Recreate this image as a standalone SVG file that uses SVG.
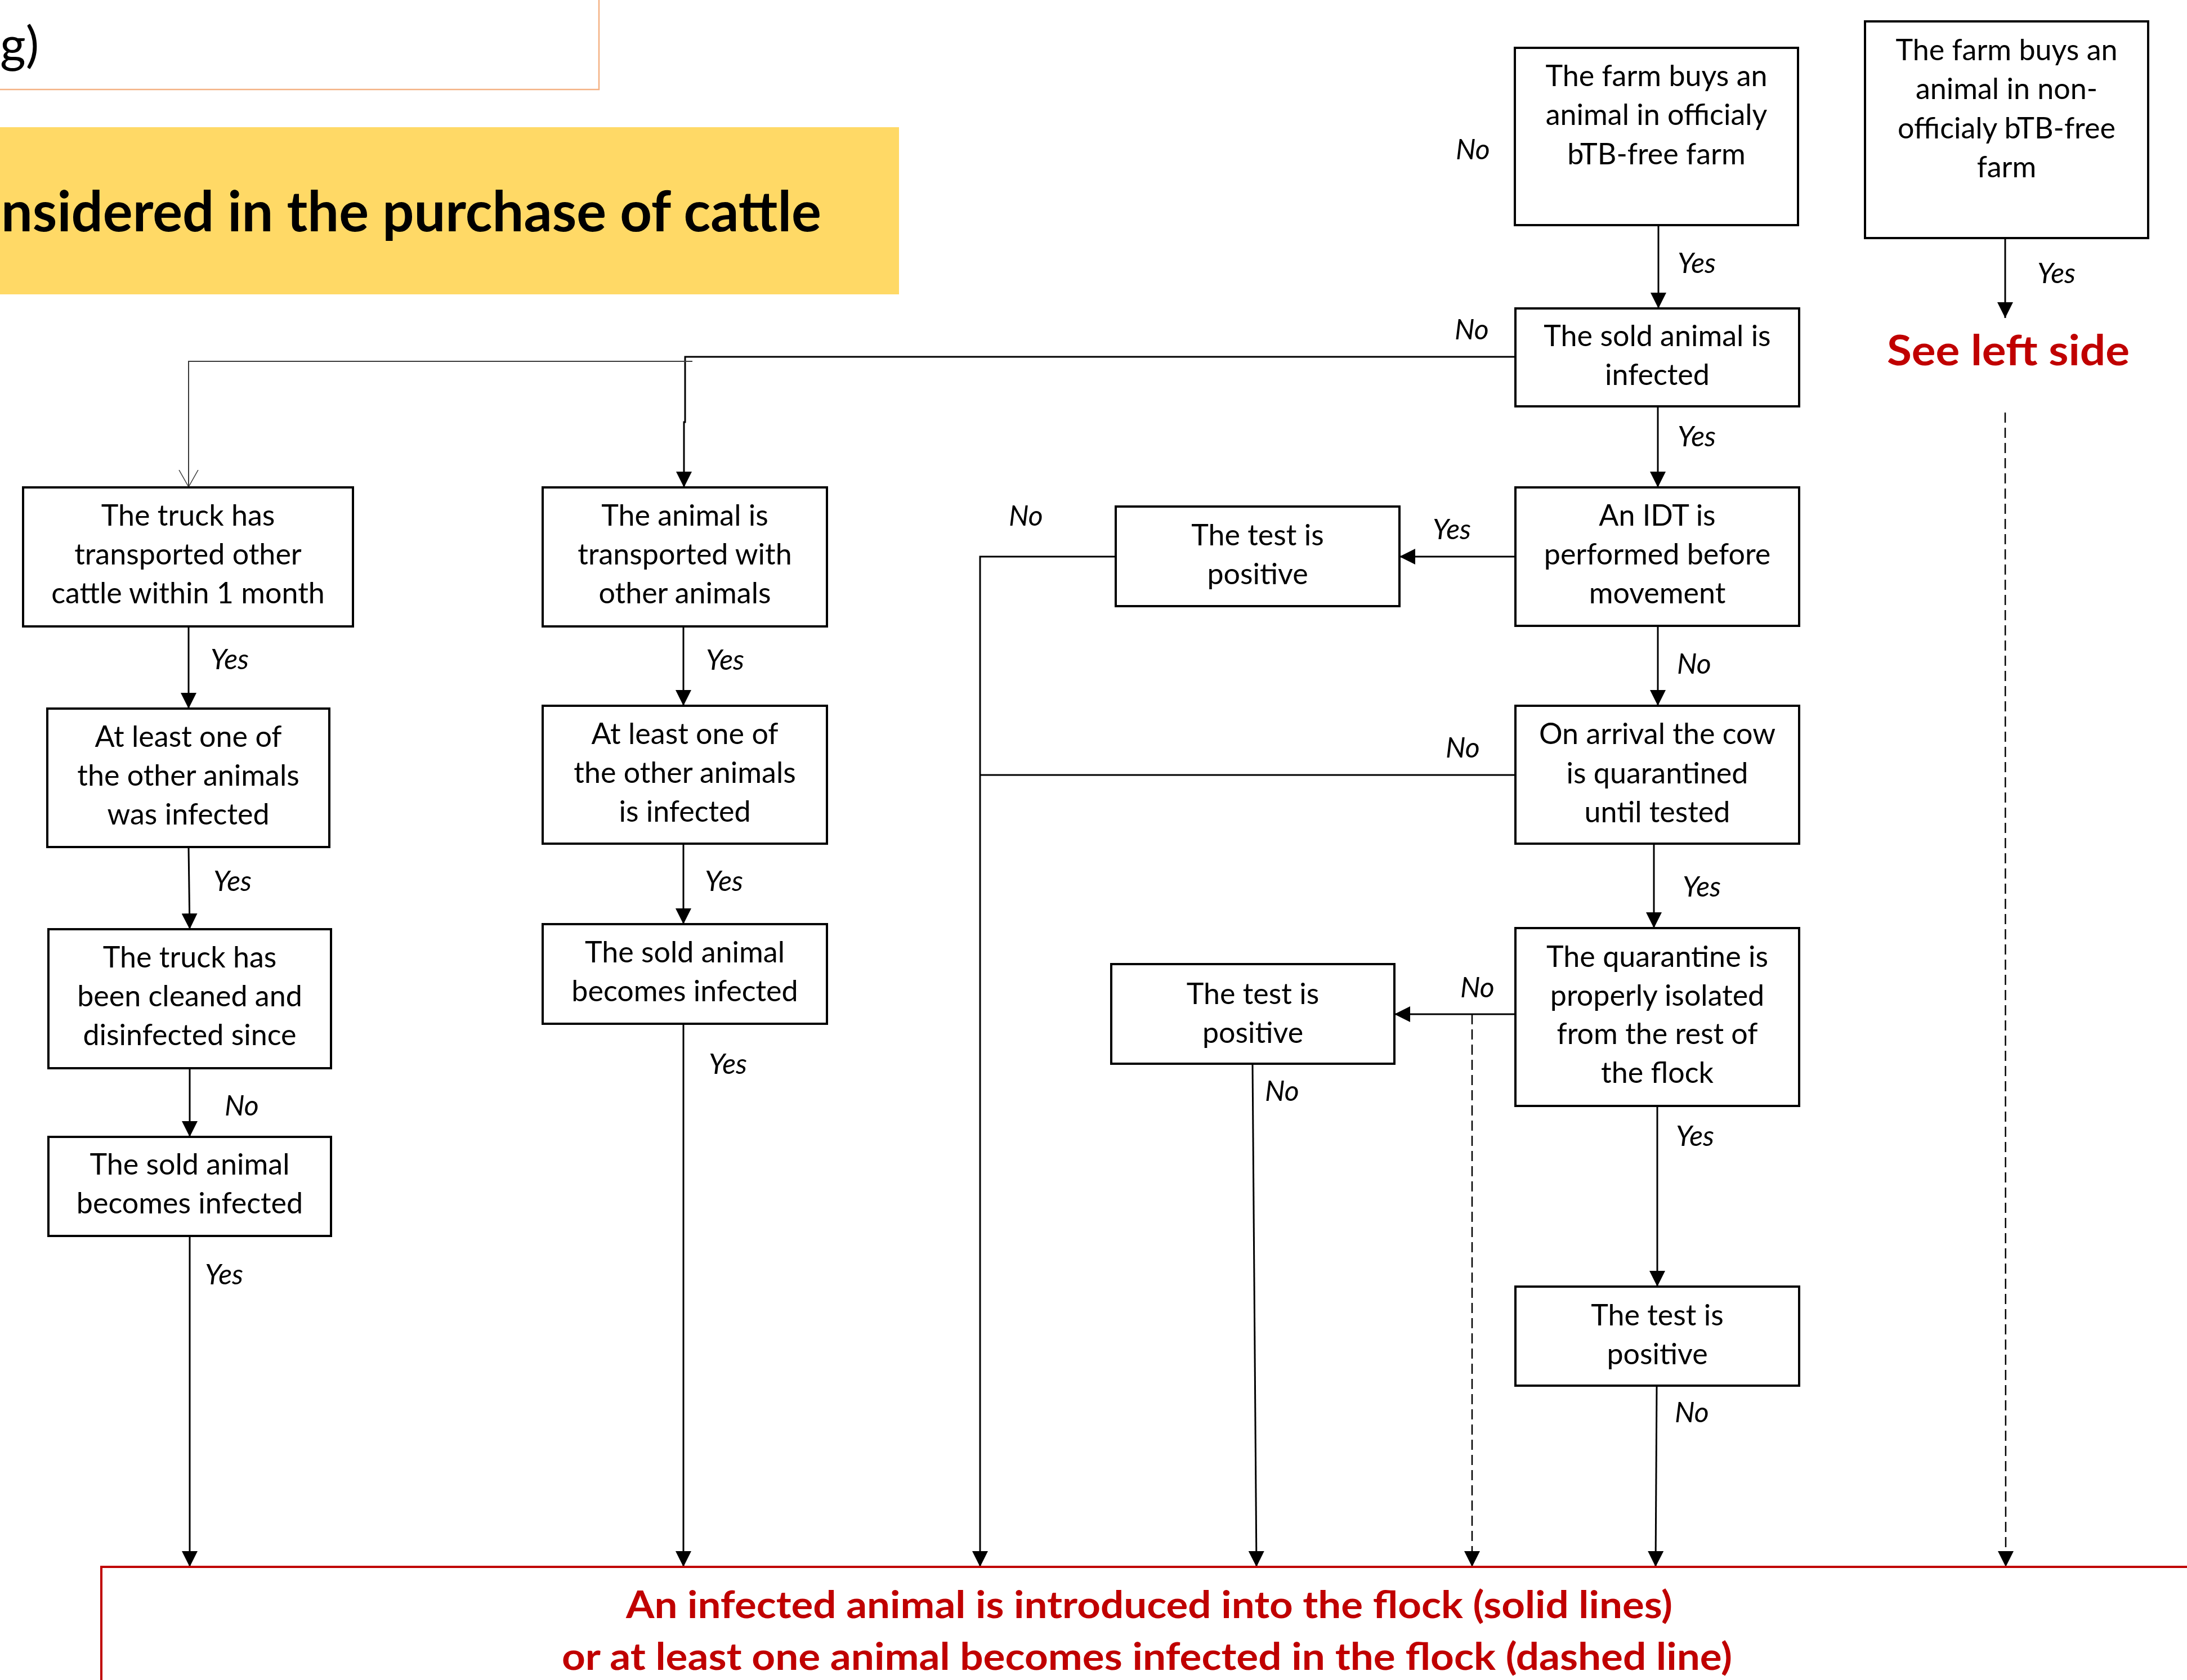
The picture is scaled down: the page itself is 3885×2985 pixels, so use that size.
<svg xmlns="http://www.w3.org/2000/svg" width="3885" height="2985" viewBox="0 0 3885 2985">
<defs>
<style>
.box{fill:#fff;stroke:#000;stroke-width:4}
.t{font-family:Lato,"Liberation Sans",sans-serif;font-size:52px;text-anchor:middle;fill:#000}
.lbl{font-family:Lato,"Liberation Sans",sans-serif;font-size:50px;font-style:italic;fill:#000}
.c{fill:none;stroke:#000;stroke-width:3}
.thin{fill:none;stroke:#3a3a3a;stroke-width:2}
.dash{fill:none;stroke:#000;stroke-width:2.5;stroke-dasharray:18 9}
.red{font-family:Lato,"Liberation Sans",sans-serif;font-weight:bold;fill:#C00000}
</style>
<marker id="ah" markerUnits="userSpaceOnUse" markerWidth="28" markerHeight="28" refX="28" refY="14" orient="auto" viewBox="0 0 28 28">
<path d="M0,0 L28,14 L0,28 z" fill="#000"/>
</marker>
<marker id="oh" markerUnits="userSpaceOnUse" markerWidth="32" markerHeight="36" refX="30" refY="18" orient="auto" viewBox="0 0 32 36">
<path d="M0,1 L30,18 L0,35" fill="none" stroke="#3a3a3a" stroke-width="1.5"/>
</marker>
</defs>
<rect width="3885" height="2985" fill="#fff"/>

<g id="header">
<rect x="-10" y="-10" width="1074" height="169" fill="#fff" stroke="#F4B183" stroke-width="2.5"/>
<text x="0" y="110" style="font-family:Lato,'Liberation Sans',sans-serif;font-size:88px">g)</text>
<rect x="-10" y="226" width="1607" height="297" fill="#FFD966"/>
<text x="2" y="411" textLength="1457" lengthAdjust="spacingAndGlyphs" style="font-family:Lato,'Liberation Sans',sans-serif;font-weight:bold;font-size:100px;fill:#000">nsidered in the purchase of cattle</text>
</g>

<g id="connectors">
<path class="c" d="M2946,400 V548" marker-end="url(#ah)"/>
<path class="c" d="M3562,423 V565" marker-end="url(#ah)"/>
<path class="c" d="M2945,722 V866" marker-end="url(#ah)"/>
<path class="c" d="M2692,634 H1217 V750 H1215 V866" marker-end="url(#ah)"/>
<path class="thin" d="M1230,642 H335 V865" marker-end="url(#oh)"/>
<path class="c" d="M335,1113 V1259" marker-end="url(#ah)"/>
<path class="c" d="M335,1505 L337,1651" marker-end="url(#ah)"/>
<path class="c" d="M337,1898 V2020" marker-end="url(#ah)"/>
<path class="c" d="M337,2196 V2784" marker-end="url(#ah)"/>
<path class="c" d="M1214,1113 V1254" marker-end="url(#ah)"/>
<path class="c" d="M1214,1499 V1642" marker-end="url(#ah)"/>
<path class="c" d="M1214,1819 V2784" marker-end="url(#ah)"/>
<path class="c" d="M2692,989 H2486" marker-end="url(#ah)"/>
<path class="c" d="M1982,989 H1741 V2784" marker-end="url(#ah)"/>
<path class="c" d="M2692,1377 H1741"/>
<path class="c" d="M2945,1112 V1254" marker-end="url(#ah)"/>
<path class="c" d="M2938,1499 V1649" marker-end="url(#ah)"/>
<path class="c" d="M2690,1802 H2477" marker-end="url(#ah)"/>
<path class="dash" d="M2615,1802 V2784" marker-end="url(#ah)"/>
<path class="c" d="M2225,1890 L2232,2784" marker-end="url(#ah)"/>
<path class="c" d="M2944,1965 V2286" marker-end="url(#ah)"/>
<path class="c" d="M2943,2462 L2941,2784" marker-end="url(#ah)"/>
<path class="dash" d="M3562,733 L3563,2784" marker-end="url(#ah)"/>
</g>

<g id="labels">
<text class="lbl" x="2586" y="283">No</text>
<text class="lbl" x="2980" y="485">Yes</text>
<text class="lbl" x="2584" y="603">No</text>
<text class="lbl" x="3619" y="503">Yes</text>
<text class="lbl" x="2980" y="793">Yes</text>
<text class="lbl" x="2545" y="958">Yes</text>
<text class="lbl" x="1792" y="934">No</text>
<text class="lbl" x="2979" y="1197">No</text>
<text class="lbl" x="2568" y="1346">No</text>
<text class="lbl" x="2989" y="1593">Yes</text>
<text class="lbl" x="2594" y="1772">No</text>
<text class="lbl" x="2247" y="1956">No</text>
<text class="lbl" x="2977" y="2036">Yes</text>
<text class="lbl" x="2975" y="2527">No</text>
<text class="lbl" x="374" y="1189">Yes</text>
<text class="lbl" x="1254" y="1190">Yes</text>
<text class="lbl" x="379" y="1583">Yes</text>
<text class="lbl" x="1252" y="1583">Yes</text>
<text class="lbl" x="399" y="1982">No</text>
<text class="lbl" x="1259" y="1908">Yes</text>
<text class="lbl" x="364" y="2282">Yes</text>
</g>

<g id="n_buy_official">
<rect class="box" x="2691" y="85" width="503" height="315"/>
<text class="t"><tspan x="2942.5" y="153">The farm buys an</tspan><tspan x="2942.5" y="222">animal in officialy</tspan><tspan x="2942.5" y="292">bTB-free farm</tspan></text>
</g>
<g id="n_buy_nonofficial">
<rect class="box" x="3313" y="38" width="503" height="385"/>
<text class="t"><tspan x="3564.5" y="107">The farm buys an</tspan><tspan x="3564.5" y="176">animal in non-</tspan><tspan x="3564.5" y="246">officialy bTB-free</tspan><tspan x="3564.5" y="315">farm</tspan></text>
</g>
<g id="n_see_left">
<text class="red" x="3352" y="649" textLength="431" lengthAdjust="spacingAndGlyphs" style="font-size:75px">See left side</text>
</g>
<g id="n_sold_infected">
<rect class="box" x="2692" y="548" width="504" height="174"/>
<text class="t"><tspan x="2944" y="615">The sold animal is</tspan><tspan x="2944" y="684">infected</tspan></text>
</g>
<g id="n_idt">
<rect class="box" x="2692" y="866" width="504" height="246"/>
<text class="t"><tspan x="2944" y="934">An IDT is</tspan><tspan x="2944" y="1003">performed before</tspan><tspan x="2944" y="1072">movement</tspan></text>
</g>
<g id="n_test1">
<rect class="box" x="1982" y="900" width="504" height="177"/>
<text class="t"><tspan x="2234" y="969">The test is</tspan><tspan x="2234" y="1038">positive</tspan></text>
</g>
<g id="n_quarantine">
<rect class="box" x="2692" y="1254" width="504" height="245"/>
<text class="t"><tspan x="2944" y="1322">On arrival the cow</tspan><tspan x="2944" y="1392">is quarantined</tspan><tspan x="2944" y="1461">until tested</tspan></text>
</g>
<g id="n_isolated">
<rect class="box" x="2692" y="1649" width="504" height="316"/>
<text class="t"><tspan x="2944" y="1718">The quarantine is</tspan><tspan x="2944" y="1787">properly isolated</tspan><tspan x="2944" y="1855">from the rest of</tspan><tspan x="2944" y="1924">the flock</tspan></text>
</g>
<g id="n_test2">
<rect class="box" x="1974" y="1713" width="503" height="177"/>
<text class="t"><tspan x="2225.5" y="1784">The test is</tspan><tspan x="2225.5" y="1853">positive</tspan></text>
</g>
<g id="n_test3">
<rect class="box" x="2692" y="2286" width="504" height="176"/>
<text class="t"><tspan x="2944" y="2355">The test is</tspan><tspan x="2944" y="2424">positive</tspan></text>
</g>
<g id="n_truck1">
<rect class="box" x="41" y="866" width="586" height="247"/>
<text class="t"><tspan x="334" y="934">The truck has</tspan><tspan x="334" y="1003">transported other</tspan><tspan x="334" y="1072">cattle within 1 month</tspan></text>
</g>
<g id="n_transported">
<rect class="box" x="964" y="866" width="505" height="247"/>
<text class="t"><tspan x="1216.5" y="934">The animal is</tspan><tspan x="1216.5" y="1003">transported with</tspan><tspan x="1216.5" y="1072">other animals</tspan></text>
</g>
<g id="n_atleast1">
<rect class="box" x="84" y="1259" width="501" height="246"/>
<text class="t"><tspan x="334.5" y="1327">At least one of</tspan><tspan x="334.5" y="1396">the other animals</tspan><tspan x="334.5" y="1465">was infected</tspan></text>
</g>
<g id="n_atleast2">
<rect class="box" x="964" y="1254" width="505" height="245"/>
<text class="t"><tspan x="1216.5" y="1322">At least one of</tspan><tspan x="1216.5" y="1391">the other animals</tspan><tspan x="1216.5" y="1460">is infected</tspan></text>
</g>
<g id="n_cleaned">
<rect class="box" x="86" y="1651" width="502" height="247"/>
<text class="t"><tspan x="337" y="1719">The truck has</tspan><tspan x="337" y="1788">been cleaned and</tspan><tspan x="337" y="1857">disinfected since</tspan></text>
</g>
<g id="n_sold_left">
<rect class="box" x="86" y="2020" width="502" height="176"/>
<text class="t"><tspan x="337" y="2087">The sold animal</tspan><tspan x="337" y="2156">becomes infected</tspan></text>
</g>
<g id="n_sold_mid">
<rect class="box" x="964" y="1642" width="505" height="177"/>
<text class="t"><tspan x="1216.5" y="1710">The sold animal</tspan><tspan x="1216.5" y="1779">becomes infected</tspan></text>
</g>

<g id="n_outcome">
<rect x="180" y="2784" width="3800" height="300" fill="#fff" stroke="#C00000" stroke-width="4"/>
<text class="red" x="1112" y="2875" textLength="1859" lengthAdjust="spacingAndGlyphs" style="font-size:67px">An infected animal is introduced into the flock (solid lines)</text>
<text class="red" x="998" y="2967" textLength="2079" lengthAdjust="spacingAndGlyphs" style="font-size:67px">or at least one animal becomes infected in the flock (dashed line)</text>
</g>
</svg>
